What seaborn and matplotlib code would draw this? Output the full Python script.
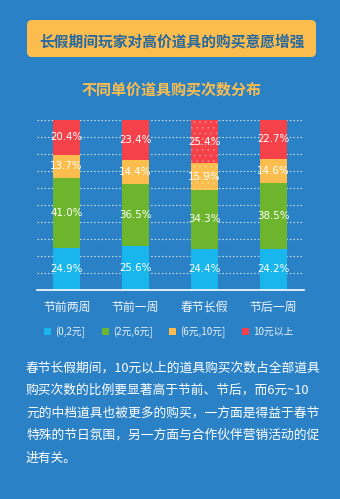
import matplotlib
matplotlib.use("Agg")
import matplotlib.pyplot as plt
from matplotlib.patches import FancyBboxPatch, Patch
import seaborn as sns
import pandas as pd
import numpy as np

# ---------------- data ----------------
categories = ["节前两周", "节前一周", "春节长假", "节后一周"]
series_names = ["(0,2元]", "(2元,6元]", "(6元,10元]", "10元以上"]
s_0_2 = [24.9, 25.6, 24.4, 24.2]
s_2_6 = [41.0, 36.5, 34.3, 38.5]
s_6_10 = [13.7, 14.4, 15.9, 14.6]
s_10p = [20.4, 23.4, 25.4, 22.7]
title = "长假期间玩家对高价道具的购买意愿增强"
subtitle = "不同单价道具购买次数分布"
para_lines = [
    "春节长假期间，10元以上的道具购买次数占全部道具",
    "购买次数的比例要显著高于节前、节后，而6元~10",
    "元的中档道具也被更多的购买，一方面是得益于春节",
    "特殊的节日氛围，另一方面与合作伙伴营销活动的促",
    "进有关。",
]
highlight = "春节长假"

# ---------------- style ----------------
BG = "#2B81C6"
COLORS = ["#19B6EE", "#6DB52C", "#FBBE4E", "#F5424A"]
YELLOW = "#FBBE4E"

sns.set_style("white")
plt.rcParams["font.family"] = ["Noto Sans CJK SC", "DejaVu Sans"]
plt.rcParams["hatch.color"] = (1, 1, 1, 0.3)
plt.rcParams["hatch.linewidth"] = 0.5

W, H = 340, 499
fig = plt.figure(figsize=(W / 100, H / 100), dpi=100, facecolor=BG)

# title box
box = FancyBboxPatch((0.27, (H - 57) / 100), 2.89, 0.37,
                     boxstyle="round,pad=0,rounding_size=0.05",
                     transform=fig.dpi_scale_trans, facecolor=YELLOW,
                     edgecolor="none", zorder=0)
fig.patches.append(box)
fig.text(172 / W, 1 - 41 / H, title, ha="center", va="center",
         fontsize=10.6, fontweight="bold", color="#2768A0")
fig.text(171 / W, 1 - 90 / H, subtitle, ha="center", va="center",
         fontsize=10.8, fontweight="bold", color=YELLOW)

# chart axes
ax = fig.add_axes([37 / W, 1 - 290 / H, 267 / W, 170 / H])
ax.set_facecolor(BG)

df = pd.DataFrame({"cat": categories, "a": s_0_2, "b": s_2_6,
                   "c": s_6_10, "d": s_10p})
cols = ["a", "b", "c", "d"]
cum = np.cumsum(df[cols].values, axis=1)
# draw cumulative totals from the top segment down
for i in range(3, -1, -1):
    tmp = pd.DataFrame({"cat": categories, "v": cum[:, i]})
    sns.barplot(data=tmp, x="cat", y="v", color=COLORS[i], saturation=1,
                width=0.39, ax=ax, order=categories, linewidth=0,
                zorder=2)

# hatch highlighted bar for upper segments
hi = categories.index(highlight)
n = len(categories)
for k, bar in enumerate(ax.patches):
    seg = 3 - k // n
    cat = k % n
    if cat == hi and seg >= 2:
        bar.set_hatch("...")
        bar.set_edgecolor((1, 1, 1, 0.3))
        bar.set_linewidth(0)

# value labels
for j in range(n):
    for i in range(4):
        bottom = cum[j, i - 1] if i > 0 else 0
        val = df[cols[i]].iloc[j]
        ax.text(j, bottom + val / 2, f"{val:.1f}%", ha="center",
                va="center", color="white", fontsize=7.4, zorder=5,
                family=["DejaVu Sans"])

ax.set_xlim(-0.43, 3.445)
ax.set_ylim(0, 100)
ax.set_yticks(np.arange(10, 101, 10))
ax.yaxis.grid(True, color="white", linestyle=(0, (1.2, 2)), linewidth=0.8,
              alpha=0.85)
ax.set_axisbelow(True)
ax.tick_params(axis="y", left=False, labelleft=False)
ax.tick_params(axis="x", bottom=False, colors="white", labelsize=8.6, pad=4)
ax.set_xlabel("")
ax.set_ylabel("")
for s in ["top", "left", "right"]:
    ax.spines[s].set_visible(False)
ax.spines["bottom"].set_color("white")
ax.spines["bottom"].set_linewidth(1.2)
for lab in ax.get_xticklabels():
    lab.set_color("#EEF4FA")

# legend
handles = [Patch(facecolor=c, edgecolor="none") for c in COLORS]
leg = fig.legend(handles, series_names, loc="center",
                 bbox_to_anchor=(169 / W, 1 - 332 / H), ncol=4,
                 frameon=False, fontsize=7.0, handlelength=0.7,
                 handleheight=0.7, handletextpad=0.45, columnspacing=1.7)
for t in leg.get_texts():
    t.set_color("#EEF4FA")

# paragraph
for k, line in enumerate(para_lines):
    fig.text(26 / W, 1 - (368 + k * 22.5) / H, line, ha="left",
             va="center", fontsize=9.2, color="white")

fig.savefig("out.png", dpi=100, facecolor=BG)
